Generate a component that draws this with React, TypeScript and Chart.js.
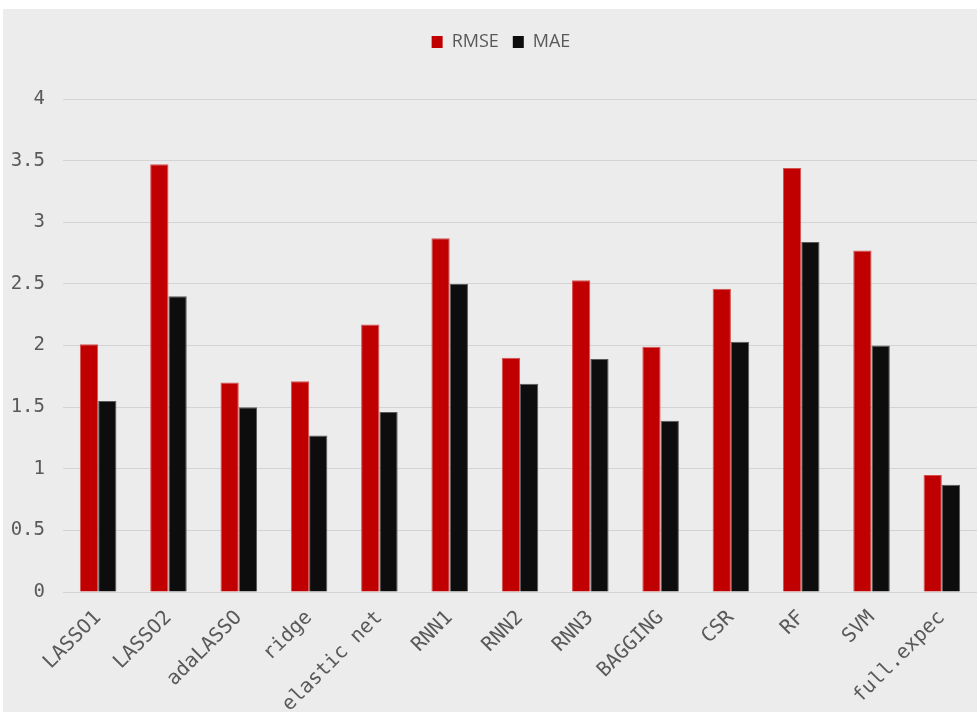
import React, { useEffect, useRef } from "react";
import { Chart, registerables } from "chart.js";

Chart.register(...registerables);

// Forecast error by model
const models = [
  "LASSO1",
  "LASSO2",
  "adaLASSO",
  "ridge",
  "elastic net",
  "RNN1",
  "RNN2",
  "RNN3",
  "BAGGING",
  "CSR",
  "RF",
  "SVM",
  "full.expec",
];
const rmse = [2.01, 3.47, 1.7, 1.71, 2.17, 2.87, 1.9, 2.53, 1.99, 2.46, 3.44, 2.77, 0.95];
const mae = [1.55, 2.4, 1.5, 1.27, 1.46, 2.5, 1.69, 1.89, 1.39, 2.03, 2.84, 2.0, 0.87];

const yMin = 0;
const yMax = 4;
const yStep = 0.5;

const TEXT = "#595959";
const GRID = "#d3d3d3";
const MONO = "'DejaVu Sans Mono', monospace";

// Adds room under the legend so the plot starts lower down, and nudges
// the centred legend a little to the right.
const legendPlacement = {
  id: "legendPlacement",
  beforeLayout(chart: any) {
    const legend = chart.legend;
    if (legend && !legend.__patched) {
      const fit = legend.fit.bind(legend);
      legend.fit = function () {
        fit();
        this.height += 38;
      };
      legend.__patched = true;
    }
  },
  afterLayout(chart: any) {
    const legend = chart.legend;
    if (legend) legend.left += 22;
  },
};

export default function App() {
  const canvasRef = useRef<HTMLCanvasElement | null>(null);

  useEffect(() => {
    document.body.style.margin = "0";
    document.body.style.background = "#ffffff";
    const canvas = canvasRef.current;
    if (!canvas) return;
    const chart = new Chart(canvas, {
      type: "bar",
      data: {
        labels: models,
        datasets: [
          {
            label: "RMSE",
            data: rmse,
            backgroundColor: "#c00000",
            borderColor: "#d65050",
            borderWidth: 1,
            categoryPercentage: 0.52,
            barPercentage: 1,
          },
          {
            label: "MAE",
            data: mae,
            backgroundColor: "#0d0d0d",
            borderColor: "#5a5a5a",
            borderWidth: 1,
            categoryPercentage: 0.52,
            barPercentage: 1,
          },
        ],
      },
      options: {
        animation: false,
        responsive: true,
        maintainAspectRatio: false,
        layout: { padding: { top: 10, left: 0, right: 0, bottom: 0 } },
        plugins: {
          legend: {
            position: "top",
            labels: {
              boxWidth: 11,
              boxHeight: 12,
              padding: 14,
              color: TEXT,
              font: { family: "'Open Sans', sans-serif", size: 18 },
              generateLabels(ch: any) {
                return ch.data.datasets.map((ds: any, i: number) => ({
                  text: ds.label,
                  fillStyle: ds.backgroundColor,
                  strokeStyle: ds.backgroundColor,
                  lineWidth: 0,
                  fontColor: TEXT,
                  hidden: false,
                  datasetIndex: i,
                }));
              },
            },
          },
          tooltip: { enabled: false },
        },
        scales: {
          x: {
            grid: { display: false, drawTicks: false },
            border: { display: false },
            ticks: {
              color: TEXT,
              font: { family: MONO, size: 20 },
              minRotation: 45,
              maxRotation: 45,
              autoSkip: false,
              padding: 14,
            },
            afterFit(scale: any) {
              scale.height = 120;
            },
          },
          y: {
            min: yMin,
            max: yMax,
            grid: { color: GRID, lineWidth: 1, drawTicks: false },
            border: { display: false },
            ticks: {
              stepSize: yStep,
              color: TEXT,
              font: { family: MONO, size: 19 },
              padding: 18,
              callback: (v: any) => `${v}`,
            },
            afterFit(scale: any) {
              scale.width = 60;
            },
          },
        },
      },
      plugins: [legendPlacement],
    });
    return () => chart.destroy();
  }, []);

  return (
    <div
      style={{
        position: "fixed",
        left: 3,
        top: 9,
        width: 974,
        height: 703,
        background: "#ececec",
      }}
    >
      <canvas ref={canvasRef} />
    </div>
  );
}
